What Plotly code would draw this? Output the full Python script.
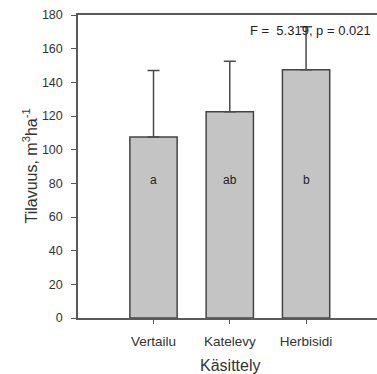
import plotly.graph_objects as go

categories = ["Vertailu", "Katelevy", "Herbisidi"]
means = [107.5, 122.5, 147.5]
errors = [39.5, 30.0, 25.5]
letters = ["a", "ab", "b"]
letter_y = 82
y_ticks = [0, 20, 40, 60, 80, 100, 120, 140, 160, 180]
stat_text = "F =  5.319, p = 0.021"

FONT = "Liberation Sans, Arial, sans-serif"
AX = "#5a5a5a"

fig = go.Figure()
fig.add_trace(go.Bar(
    x=categories, y=means, width=0.62,
    marker=dict(color="#c4c4c4", line=dict(color="#454545", width=1.5)),
    error_y=dict(type="data", array=errors, symmetric=False, arrayminus=[0]*3,
                 color="#4a4a4a", thickness=1.5, width=6),
))

for c, l in zip(categories, letters):
    fig.add_annotation(x=c, y=letter_y, text=l, showarrow=False,
                       font=dict(family=FONT, size=12, color="#222"))

fig.add_annotation(x=(373-78)/299, xref="paper", xanchor="right", y=171, yref="y",
                   text=stat_text, showarrow=False,
                   font=dict(family=FONT, size=13, color="#222"))

fig.add_annotation(x=(18-78)/299, xref="paper", y=0.5, yref="paper",
                   text="Tilavuus, m<sup>3</sup>ha<sup>-1</sup>", textangle=-90,
                   showarrow=False, font=dict(family=FONT, size=16, color="#333"))

fig.add_annotation(x=(230-78)/299, xref="paper", y=-(365-318)/303, yref="paper",
                   text="Käsittely", showarrow=False, yanchor="middle",
                   font=dict(family=FONT, size=16, color="#333"))

fig.update_layout(
    width=377, height=374,
    margin=dict(l=78, r=0, t=15, b=56),
    plot_bgcolor="white", paper_bgcolor="white",
    showlegend=False,
    xaxis=dict(range=[-0.99, 2.93], showgrid=False, showline=True, linecolor=AX,
               linewidth=1.5, mirror=True, ticks="outside", ticklen=4, tickcolor=AX,
               tickfont=dict(family=FONT, size=13.5, color="#333"),
               ticklabelstandoff=6),
    yaxis=dict(range=[0, 180], showgrid=False, showline=True, linecolor=AX,
               linewidth=1.5, ticks="outside", ticklen=5, tickcolor=AX,
               tickvals=y_ticks, zeroline=False,
               tickfont=dict(family=FONT, size=12.5, color="#333"),
               ticklabelstandoff=6),
)

fig.write_html("out.html", config={"displayModeBar": False},
               post_script="document.body.style.margin='0';document.body.style.overflow='hidden';")
